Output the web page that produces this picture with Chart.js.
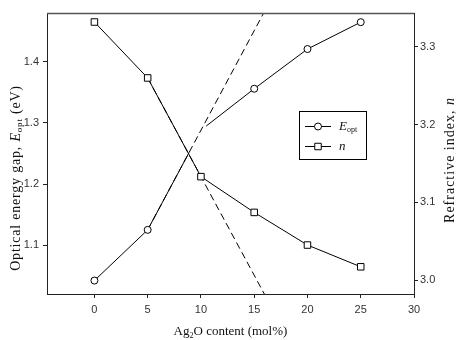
<!DOCTYPE html>
<html><head><meta charset="utf-8">
<script src="https://cdn.jsdelivr.net/npm/chart.js@4/dist/chart.umd.min.js"></script>
<style>html,body{margin:0;padding:0;background:#fff}</style>
</head><body>
<canvas id="c" width="458" height="340"></canvas>
<script>
// ---- data ----
const agContent = [0, 5, 10, 15, 20, 25];               // Ag2O content (mol%)
const refIndex  = [3.332, 3.260, 3.133, 3.087, 3.045, 3.017]; // n
const eOptLowX  = [0, 5, 8.9];                          // lower E_opt branch
const eOptLowY  = [1.042, 1.125, 1.252];
const eOptHighX = [10.5, 15, 20, 25];                   // upper E_opt branch
const eOptHighY = [1.295, 1.356, 1.421, 1.465];
const eFitX = [5, 16.5];  const eFitY = [1.125, 1.500]; // dashed fit lines
const nFitX = [5, 16.5];  const nFitY = [3.260, 2.968];
const xTicks  = [0, 5, 10, 15, 20, 25, 30];
const yLTicks = [1.1, 1.2, 1.3, 1.4];
const yRTicks = [3.0, 3.1, 3.2, 3.3];

const pts = (xs, ys) => xs.map((x, i) => ({x, y: ys[i]}));
const SANS = "'Liberation Sans', Arial, sans-serif";
const SERIF = "'Liberation Serif', 'Times New Roman', serif";
const AX = '#222';

function fontOf(s, size) {
  const sz = s.sub ? Math.round(size * 0.62) : size;
  return (s.it ? 'italic ' : '') + sz + 'px ' + SERIF;
}
function richWidth(ctx, segs, size) {
  let w = 0;
  for (const s of segs) { ctx.font = fontOf(s, size); w += ctx.measureText(s.t).width; }
  return w;
}
function drawRich(ctx, segs, x, y, size, align, spacing) {
  ctx.letterSpacing = (spacing || 0) + 'px';
  let w = richWidth(ctx, segs, size);
  let cx = align === 'center' ? x - w / 2 : x;
  ctx.textBaseline = 'middle';
  ctx.textAlign = 'left';
  for (const s of segs) {
    ctx.font = fontOf(s, size);
    ctx.fillText(s.t, cx, y + (s.sub ? size * 0.28 : 0));
    cx += ctx.measureText(s.t).width;
  }
  ctx.letterSpacing = '0px';
}

const decor = {
  id: 'decor',
  afterDraw(chart) {
    const ctx = chart.ctx, a = chart.chartArea;
    ctx.save();
    ctx.strokeStyle = '#555'; ctx.lineWidth = 1.5;
    ctx.beginPath(); ctx.moveTo(a.left, a.top + 0.5); ctx.lineTo(a.right, a.top + 0.5); ctx.stroke();
    ctx.fillStyle = '#111';
    drawRich(ctx, [{t:'Ag'}, {t:'2', sub:true}, {t:'O content (mol%)'}], (a.left + a.right) / 2, 332, 13, 'center');
    ctx.save(); ctx.translate(16, 178); ctx.rotate(-Math.PI / 2);
    drawRich(ctx, [{t:'Optical energy gap, '}, {t:'E', it:true}, {t:'opt', sub:true}, {t:' (eV)'}], 0, 0, 14, 'center', 0.8);
    ctx.restore();
    ctx.save(); ctx.translate(450, 160); ctx.rotate(-Math.PI / 2);
    drawRich(ctx, [{t:'Refractive index, '}, {t:'n', it:true}], 0, 0, 14, 'center', 1.0);
    ctx.restore();
    ctx.strokeStyle = '#000'; ctx.lineWidth = 1;
    ctx.strokeRect(299.5, 111.5, 67, 48);
    const rows = [
      {y: 126.5, style: 'circle', label: [{t:'E', it:true}, {t:'opt', sub:true}]},
      {y: 146.5, style: 'rect', label: [{t:'n', it:true}]}
    ];
    for (const r of rows) {
      ctx.strokeStyle = '#000'; ctx.lineWidth = 1;
      ctx.beginPath(); ctx.moveTo(305, r.y); ctx.lineTo(331, r.y); ctx.stroke();
      ctx.fillStyle = '#fff';
      ctx.beginPath();
      if (r.style === 'circle') ctx.arc(318, r.y, 3.5, 0, Math.PI * 2);
      else ctx.rect(314.75, r.y - 3.25, 6.5, 6.5);
      ctx.fill(); ctx.stroke();
      ctx.fillStyle = '#111';
      drawRich(ctx, r.label, 339, r.y, 13, 'left');
    }
    ctx.restore();
  }
};

const markerDs = (label, data, axis, style, radii) => ({
  label, data, yAxisID: axis, showLine: true,
  borderColor: '#000', borderWidth: 1, backgroundColor: '#fff',
  pointStyle: style, pointRadius: radii, pointBorderColor: '#000',
  pointBackgroundColor: '#fff', pointBorderWidth: 1, tension: 0
});
const dashDs = (data, axis) => ({
  data, yAxisID: axis, showLine: true, borderColor: '#000', borderWidth: 1,
  borderDash: [7, 4], pointRadius: 0, tension: 0
});

const axisCommon = (pad) => ({
  grid: { drawOnChartArea: false, drawTicks: true, tickLength: 4, color: AX },
  border: { display: true, color: AX },
  ticks: { font: { family: SANS, size: 11 }, color: '#333', padding: pad, maxRotation: 0 }
});

const xOpts = axisCommon(5);
xOpts.ticks.callback = v => String(v);
const yOpts = axisCommon(4);
yOpts.ticks.callback = v => v.toFixed(1);
const y2Opts = axisCommon(2);
y2Opts.ticks.callback = v => v.toFixed(1);

new Chart(document.getElementById('c'), {
  type: 'scatter',
  data: { datasets: [
    markerDs('n', pts(agContent, refIndex), 'y2', 'rect', 4.6),
    markerDs('Eopt', pts(eOptHighX, eOptHighY), 'y', 'circle', [0, 3.5, 3.5, 3.5]),
    markerDs('Eopt low', pts(eOptLowX, eOptLowY), 'y', 'circle', [3.5, 3.5, 0]),
    dashDs(pts(eFitX, eFitY), 'y'),
    dashDs(pts(nFitX, nFitY), 'y2')
  ]},
  options: {
    responsive: false, animation: false, devicePixelRatio: 1,
    layout: { padding: { top: 13, left: 0, right: 0, bottom: 0 } },
    plugins: { legend: { display: false }, tooltip: { enabled: false } },
    scales: {
      x: Object.assign(xOpts, {
        type: 'linear', position: 'bottom', min: -4.45, max: 30,
        afterBuildTicks(s) { s.ticks = xTicks.map(v => ({value: v})); },
        afterFit(s) { s.height = 46; }
      }),
      y: Object.assign(yOpts, {
        type: 'linear', position: 'left', min: 1.02, max: 1.48,
        afterBuildTicks(s) { s.ticks = yLTicks.map(v => ({value: v})); },
        afterFit(s) { s.width = 47; }
      }),
      y2: Object.assign(y2Opts, {
        type: 'linear', position: 'right', min: 2.982, max: 3.3436,
        afterBuildTicks(s) { s.ticks = yRTicks.map(v => ({value: v})); },
        afterFit(s) { s.width = 44; }
      })
    }
  },
  plugins: [decor]
});
</script>
</body></html>
